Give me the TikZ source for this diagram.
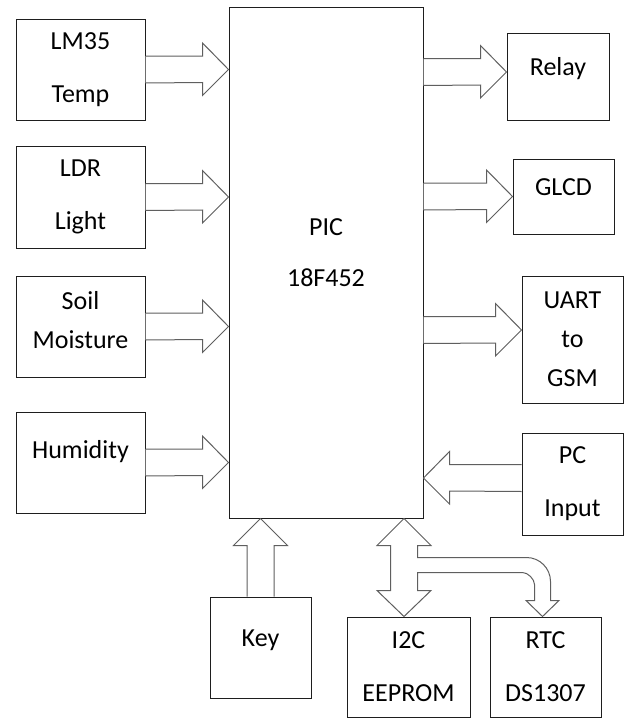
\documentclass[tikz,border=0pt]{standalone}
\usepackage{fontspec}
\setmainfont{Carlito}
\usepackage{tikz}
\usetikzlibrary{calc,positioning}
\definecolor{arrgray}{RGB}{95,95,95}
\definecolor{boxline}{RGB}{30,30,30}

\begin{document}
\begin{tikzpicture}[
        x=1pt, y=-1pt,
        % style for the blocks
        blk/.style={rectangle, draw=boxline, line width=1pt, align=center, inner sep=0pt,
            font=\fontsize{26}{53}\selectfont},
        % single line blocks: text sits near the top
        oneline/.style={text height=18pt, text depth=#1},
        oneline/.default=20.6pt,
        % hollow block arrows
        barrow/.style={draw=arrgray, line width=1pt, fill=white, line join=miter}
    ]
        \useasboundingbox (0,0) rectangle (626,718);

        % 1. Sensors on the left
        \node[blk, minimum width=129pt, minimum height=101pt] (lm) at (80.5,69.5) {LM35\\Temp};
        \node[blk, minimum width=129pt, minimum height=102pt] (ldr) at (80.5,197) {LDR\\Light};
        \node[blk, minimum width=129pt, minimum height=101pt, font=\fontsize{26}{39}\selectfont, text depth=14pt] (soil) at (80.5,326.5) {Soil\\Moisture};
        \node[blk, minimum width=129pt, minimum height=101pt, oneline=26.6pt] (hum) at (80.5,462.5) {Humidity};

        % 2. Controller
        \node[blk, minimum width=194pt, minimum height=511pt, font=\fontsize{26}{51}\selectfont, text depth=20pt] (pic) at (326,262.5) {PIC\\18F452};

        % 3. Outputs and PC on the right
        \node[blk, minimum width=102pt, minimum height=87pt, oneline] (relay) at (558,76.5) {Relay};
        \node[blk, minimum width=101pt, minimum height=75pt, oneline] (glcd) at (563.5,196.5) {GLCD};
        \node[blk, minimum width=101pt, minimum height=127pt, font=\fontsize{26}{39}\selectfont] (uart) at (572.5,339.5) {UART\\to\\GSM};
        \node[blk, minimum width=101pt, minimum height=102pt] (pc) at (572.5,484) {PC\\Input};

        % 4. Blocks below
        \node[blk, minimum width=101pt, minimum height=101pt, oneline] (key) at (260.5,647.5) {Key};
        \node[blk, minimum width=123pt, minimum height=100pt] (ee) at (408.5,667) {I2C\\EEPROM};
        \node[blk, minimum width=111pt, minimum height=100pt] (rtc) at (545.5,667) {RTC\\DS1307};

        % 5. Arrows into the PIC
        \foreach \src in {lm,ldr,soil,hum}{
            \draw[barrow] ($(\src.east)+(0,-13.5)$) -- ($(\src.east -| pic.west)+(-26,-13.5)$) -- ++(0,-13)
                -- (\src.east -| pic.west) -- ++(-26,26) -- ++(0,-13) -- ($(\src.east)+(0,13.5)$);
        }

        % 6. Arrows out of the PIC
        \foreach \dst/\dy in {relay/4.5, glcd/0, uart/9.5}{
            \coordinate (t) at ([yshift=\dy pt]\dst.west);
            \draw[barrow] ($(t -| pic.east)+(0,-13.5)$) -- ($(t)+(-26,-13.5)$) -- ++(0,-13)
                -- (t) -- ++(-26,26) -- ++(0,-13) -- ($(t -| pic.east)+(0,13.5)$);
        }

        % PC -> PIC
        \coordinate (t) at ([yshift=6pt]pc.west);
        \draw[barrow] ($(t)+(0,-13.5)$) -- ($(t -| pic.east)+(26,-13.5)$) -- ++(0,-13)
            -- (t -| pic.east) -- ++(26,26) -- ++(0,-13) -- ($(t)+(0,13.5)$);

        % Key -> PIC
        \draw[barrow] ($(key.north)+(-13.5,0)$) -- ($(key.north |- pic.south)+(-13.5,27)$) -- ++(-13.5,0)
            -- (key.north |- pic.south) -- ++(27,27) -- ++(-13.5,0) -- ($(key.north)+(13.5,0)$);

        % 7. I2C bus: PIC <-> EEPROM, branch to RTC
        \coordinate (bt) at ([xshift=-4.5pt]ee.north);
        \coordinate (tt) at (bt |- pic.south);
        \coordinate (rt) at ([xshift=-3pt]rtc.north);
        \coordinate (br) at ($(rt |- pic.south)+(0,39)$);
        \draw[barrow] (tt) -- ++(27,27) -- ++(-13.5,0) -- ($(tt)+(13.5,39)$)
            -- ($(br)+(-16,0)$) .. controls ($(br)+(-2.75,0)$) and ($(br)+(8,10.75)$) .. ($(br)+(8,24)$)
            -- ($(rt)+(8,-16)$) -- ++(8.5,0) -- (rt) -- ($(rt)+(-16.5,-16)$) -- ++(8.5,0)
            -- ($(br)+(-8,27)$) .. controls ($(br)+(-8,21.6)$) and ($(br)+(-14.6,15)$) .. ($(br)+(-20,15)$)
            -- ($(tt)+(13.5,54)$) -- ($(bt)+(13.5,-26)$) -- ++(13.5,0) -- (bt) -- ++(-27,-26) -- ++(13.5,0)
            -- ($(tt)+(-13.5,27)$) -- ++(-13.5,0) -- cycle;

    \end{tikzpicture}
\end{document}
